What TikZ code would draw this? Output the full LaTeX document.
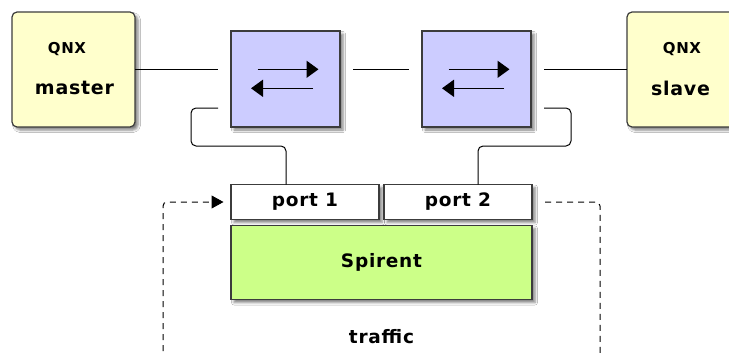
\documentclass[tikz,border=0pt]{standalone}
\usepackage{fontspec}
\setmainfont{DejaVu Sans}
\newfontfamily\lblfont[LetterSpace=4]{DejaVu Sans}
\usepackage{tikz}
\usetikzlibrary{positioning, arrows.meta, shadows.blur}
\definecolor{hostcol}{HTML}{FFFFCC}
\definecolor{swcol}{HTML}{CCCCFF}
\definecolor{spcol}{HTML}{CCFF88}
\definecolor{edgecol}{HTML}{3C3C3C}

\begin{document}
\begin{tikzpicture}[x=1pt, y=-1pt,
    box/.style={draw=edgecol, line width=1.2pt, inner sep=0pt, outer sep=0pt,
      blur shadow={shadow xshift=3pt, shadow yshift=-3pt, shadow blur radius=2.5pt, shadow opacity=50}},
    host/.style={box, rounded corners=5pt, fill=hostcol, minimum width=123pt, minimum height=115pt},
    switch/.style={box, fill=swcol, minimum width=109pt, minimum height=96pt},
    port/.style={box, fill=white, minimum width=148pt, minimum height=35pt},
    label/.style={inner sep=0pt, font=\lblfont\bfseries\fontsize{18.5}{20}\selectfont},
    qnx/.style={inner sep=0pt, font=\lblfont\bfseries\fontsize{15}{17}\selectfont},
    wire/.style={draw=black, line width=1pt},
    flow/.style={draw=black, line width=1pt, dash pattern=on 6pt off 5pt, rounded corners=4pt},
    swarrow/.style={line width=1.6pt, -{Triangle[length=12pt, width=17pt]}}]
  \useasboundingbox (0,0) rectangle (729,356);
  \fill[white] (0,0) rectangle (729,356);

  % hosts and switches
  \node[host] (master) at (73.5,69.5) {};
  \node[switch] (sw1) at (285.5,79) {};
  \node[switch, right=82pt of sw1] (sw2) {};
  \node[host, anchor=west] (slave) at ([xshift=96pt]sw2.east |- master.east) {};

  \node[qnx] (qm) at ([shift={(-6.5,-20.5)}]master.center) {QNX};
  \node[label, font=\lblfont\bfseries\fontsize{19}{21}\selectfont] (nm) at ([shift={(1,18.5)}]master.center) {master};
  \node[qnx] (qs) at ([shift={(-6.5,-20.5)}]slave.center) {QNX};
  \node[label, font=\lblfont\bfseries\fontsize{19}{21}\selectfont] (ns) at ([shift={(-8,18.5)}]slave.center) {slave};

  \foreach \s in {sw1, sw2} {
    \draw[swarrow] ([shift={(-28,-9.7)}]\s.center) -- ([shift={(33,-9.7)}]\s.center);
    \draw[swarrow] ([shift={(27.5,9.3)}]\s.center) -- ([shift={(-34.5,9.3)}]\s.center);
  }

  % tester
  \node[port, below=57.5pt of sw1.south west, anchor=north west] (p1) {};
  \node[port, right=5pt of p1] (p2) {};
  \node[box, fill=spcol, below=6pt of p1.south west, anchor=north west,
    minimum width=301pt, minimum height=74pt] (spirent) {};
  \node[label] (t1) at (p1.center) {port 1};
  \node[label] (t2) at (p2.center) {port 2};
  \node[label] (t3) at (spirent.center) {Spirent};
  \node[label] (traffic) at ([yshift=-37pt]spirent.south) {traffic};

  % links
  \draw[wire, shorten >=13pt] (master.east) -- (master.east -| sw1.west);
  \draw[wire, shorten <=13pt, shorten >=13pt] (sw1.east |- master.east) -- (sw2.west |- master.east);
  \draw[wire, shorten <=13pt] (sw2.east |- master.east) -- (slave.west);
  \draw[wire, rounded corners=5pt] ([xshift=-13pt, yshift=19pt]sw1.south west) -- ++(-27,0) -- ++(0,38) -| ([xshift=-19pt]p1.north);
  \draw[wire, rounded corners=5pt] ([xshift=13pt, yshift=19pt]sw2.south east) -- ++(27,0) -- ++(0,38) -| ([xshift=20pt]p2.north);

  % traffic loop
  \coordinate (lt) at (163,362);
  \coordinate (rt) at (600,362);
  \draw[flow, -{Triangle[length=12pt, width=13pt]}] (lt) |- ([xshift=-7.5pt]p1.west);
  \draw[flow] ([xshift=13pt]p2.east) -| (rt);
\end{tikzpicture}
\end{document}
